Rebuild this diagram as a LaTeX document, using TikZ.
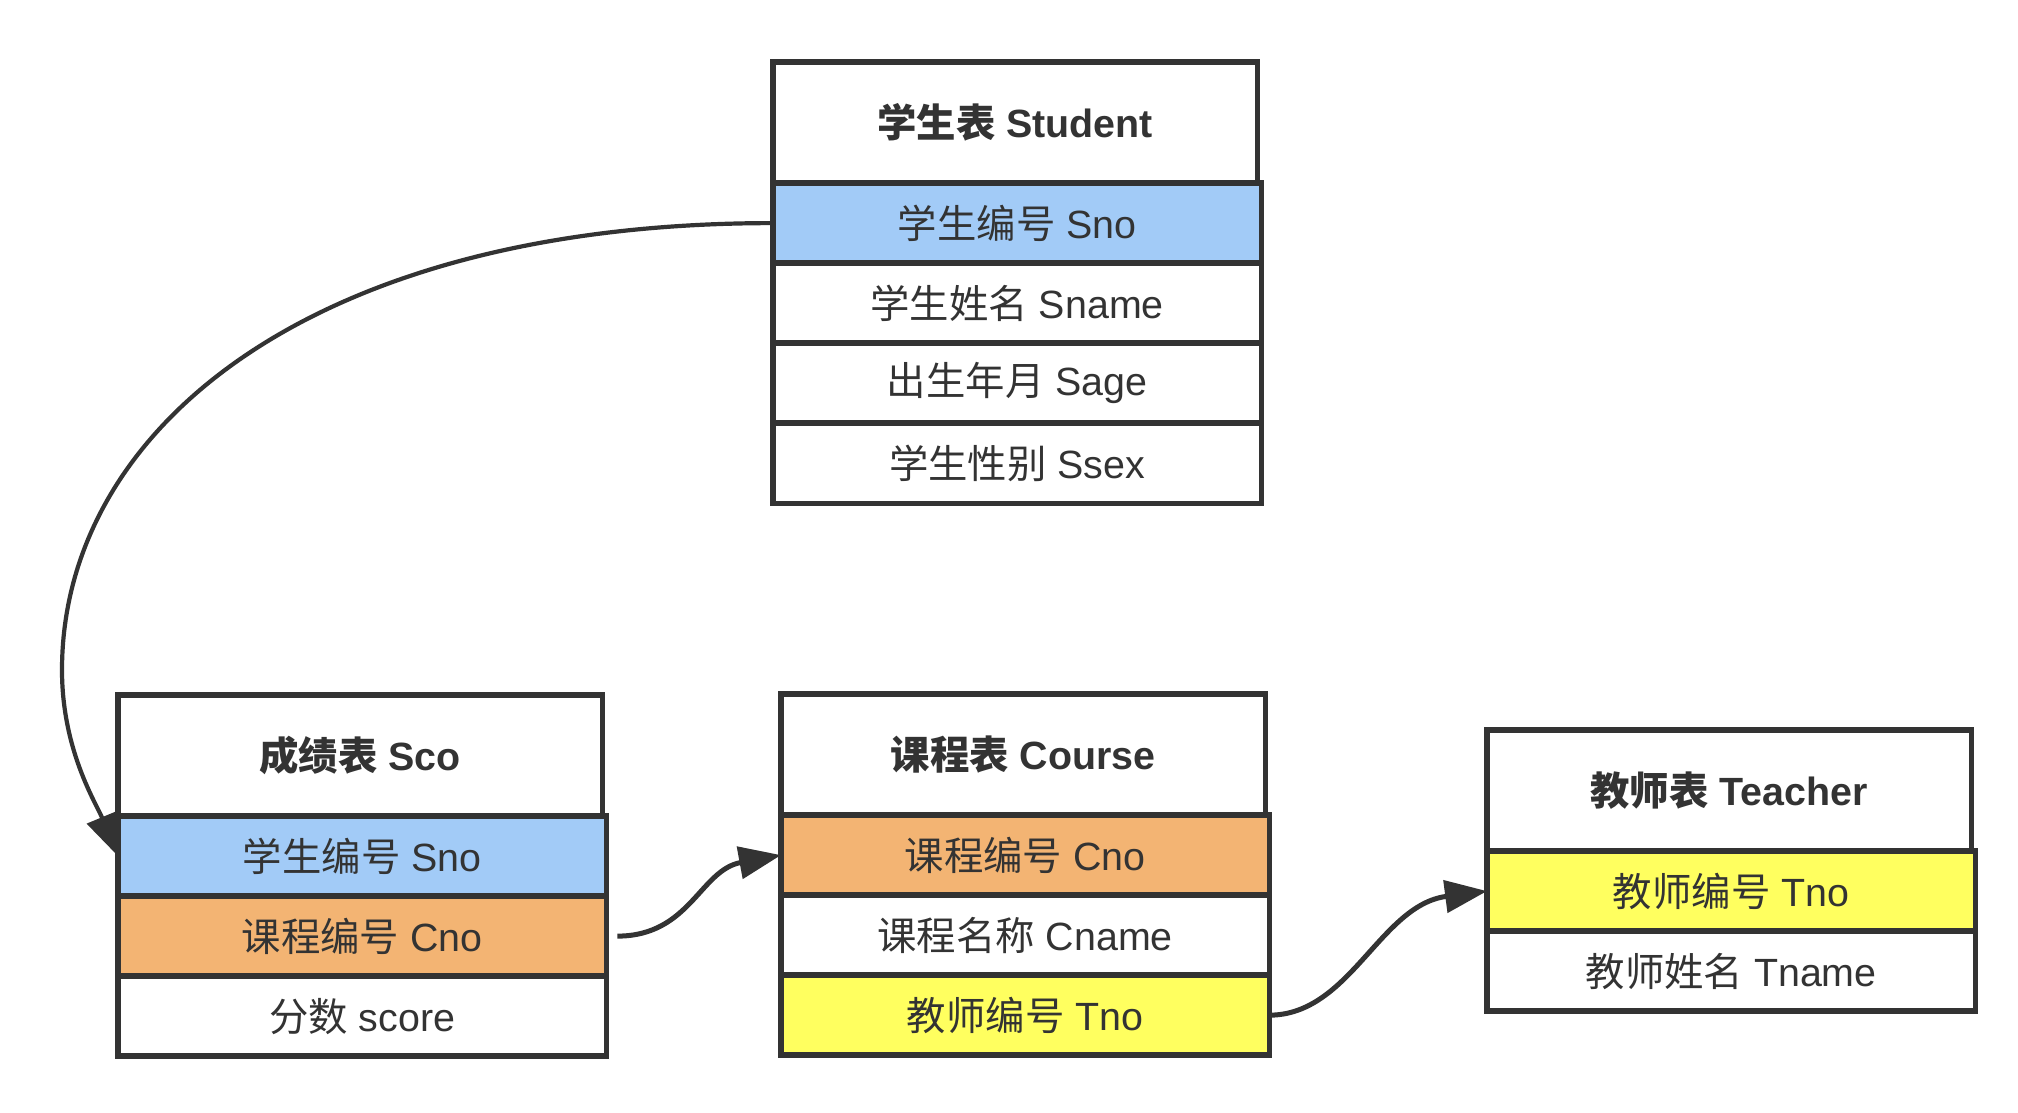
\documentclass[tikz,border=0pt]{standalone}
\usepackage{fontspec}
\setmainfont{Liberation Sans}
\newfontfamily\cjk{Noto Sans CJK SC}
\usetikzlibrary{arrows.meta, positioning}
\definecolor{ink}{HTML}{333333}
\definecolor{snoblue}{RGB}{162,203,247}
\definecolor{cnoorange}{RGB}{243,180,115}
\definecolor{tnoyellow}{RGB}{255,255,95}

\begin{document}
\begin{tikzpicture}[x=0.01cm, y=-0.01cm,
    hdr/.style={draw=ink, line width=0.055cm, fill=white, anchor=north west, outer sep=0pt, inner sep=0pt,
        minimum width=4.84cm, minimum height=1.21cm, text=ink, font=\fontsize{11.2pt}{13pt}\selectfont\bfseries},
    fld/.style={draw=ink, line width=0.055cm, fill=white, anchor=north west, outer sep=0pt, inner sep=0pt,
        minimum width=4.88cm, minimum height=0.8cm, text=ink, font=\fontsize{11.2pt}{13pt}\selectfont},
    link/.style={draw=ink, line width=0.05cm, -{Triangle[length=0.42cm, width=0.32cm]}}]
    \useasboundingbox (0,0) rectangle (2018,1112);

    % Student table
    \node[hdr] (stu) at (773,62) {{\cjk 学生表} Student};
    \node[fld, fill=snoblue] (stu-sno) at (stu.south west) {{\cjk 学生编号} Sno};
    \node[fld] (stu-sname) at (stu-sno.south west) {{\cjk 学生姓名} Sname};
    \node[fld] (stu-sage) at (stu-sname.south west) {{\cjk 出生年月} Sage};
    \node[fld] (stu-ssex) at (stu-sage.south west) {{\cjk 学生性别} Ssex};

    % Score table
    \node[hdr] (sco) at (118,695) {{\cjk 成绩表} Sco};
    \node[fld, fill=snoblue] (sco-sno) at (sco.south west) {{\cjk 学生编号} Sno};
    \node[fld, fill=cnoorange] (sco-cno) at (sco-sno.south west) {{\cjk 课程编号} Cno};
    \node[fld] (sco-score) at (sco-cno.south west) {{\cjk 分数} score};

    % Course table
    \node[hdr] (crs) at (781,694) {{\cjk 课程表} Course};
    \node[fld, fill=cnoorange] (crs-cno) at (crs.south west) {{\cjk 课程编号} Cno};
    \node[fld] (crs-cname) at (crs-cno.south west) {{\cjk 课程名称} Cname};
    \node[fld, fill=tnoyellow] (crs-tno) at (crs-cname.south west) {{\cjk 教师编号} Tno};

    % Teacher table
    \node[hdr] (tch) at (1487,730) {{\cjk 教师表} Teacher};
    \node[fld, fill=tnoyellow] (tch-tno) at (tch.south west) {{\cjk 教师编号} Tno};
    \node[fld] (tch-tname) at (tch-tno.south west) {{\cjk 教师姓名} Tname};

    % Foreign keys
    \draw[link, line width=0.042cm] (stu-sno.west) .. controls (310,223) and (62,430) .. (62,670)
        .. controls (62,750) and (96,803) .. (sco-sno.west);
    \draw[link, shorten <=0.11cm] (sco-cno.east) .. controls (690,936) and (700,870) .. (crs-cno.west);
    \draw[link] (crs-tno.east) .. controls (1350,1015) and (1380,905) .. (tch-tno.west);
\end{tikzpicture}
\end{document}
